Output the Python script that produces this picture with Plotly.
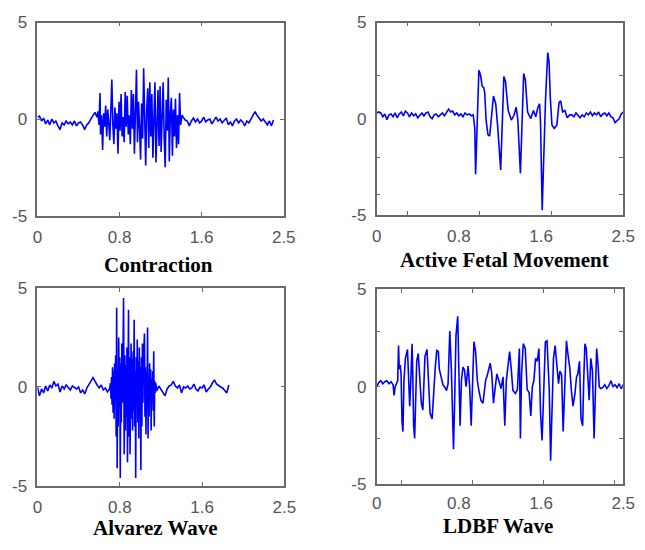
import plotly.graph_objects as go

# ---------------- data ----------------
TICK_POS = [0, 0.8, 1.6, 2.4]
TICK_TXT = ["0", "0.8", "1.6", "2.5"]
Y_TICKS = [5, 0, -5]
Y_TXT = ["5", "0", "-5"]
TITLES = ["Contraction", "Active Fetal Movement", "Alvarez Wave", "LDBF Wave"]

# Contraction
t1 = [0.00,0.02,0.04,0.06,0.08,0.10,0.12,0.14,0.16,0.18,
      0.20,0.22,0.24,0.26,0.28,0.30,0.32,0.34,0.36,0.38,
      0.40,0.42,0.44,0.46,0.48,0.50,0.52,0.54,0.56,
      0.58,0.59,0.60,0.61,0.615,0.625,0.635,0.645,0.655,0.665,
      0.675,0.685,0.695,0.705,0.715,0.725,0.735,0.745,0.755,0.765,
      0.775,0.785,0.795,0.805,0.815,0.825,0.835,0.845,0.855,0.865,
      0.875,0.885,0.895,0.905,0.915,0.925,0.935,0.945,0.955,0.965,
      0.975,0.985,0.995,1.005,1.015,1.025,1.035,1.045,1.055,1.065,
      1.075,1.085,1.095,1.105,1.115,1.125,1.135,1.145,1.155,1.165,
      1.175,1.185,1.195,1.205,1.215,1.225,1.235,1.245,1.255,1.265,
      1.275,1.285,1.295,1.305,1.315,1.325,1.335,1.345,1.355,1.365,
      1.375,1.385,1.395,1.41,
      1.42,1.44,1.46,1.48,1.50,1.52,1.54,1.56,1.58,1.60,
      1.62,1.64,1.66,1.68,1.70,1.72,1.74,1.76,1.78,1.80,
      1.82,1.84,1.86,1.88,1.90,1.92,1.94,1.96,1.98,2.00,
      2.02,2.04,2.06,2.08,2.10,2.12,2.14,2.16,2.18,2.20,
      2.22,2.24,2.26,2.28,2.30]
y1 = [0.1,0.15,-0.1,0.05,-0.25,-0.05,-0.3,0.0,-0.2,-0.1,
      -0.35,-0.55,-0.2,-0.3,-0.1,-0.25,-0.15,-0.3,-0.1,-0.35,
      -0.2,-0.15,-0.3,-0.55,-0.3,-0.2,0.0,0.2,0.35,
      0.1,0.4,-0.3,1.35,-0.8,0.2,-1.6,0.3,-0.4,0.7,
      -0.9,0.5,-0.2,-1.1,0.4,2.05,-0.3,-1.3,0.6,-0.5,
      0.3,-1.8,0.9,-0.6,1.3,-0.9,0.1,-1.2,1.4,-0.4,
      1.2,-0.8,0.2,-1.3,1.5,-0.5,1.3,-1.8,0.4,2.55,
      -1.2,0.9,-0.4,-2.1,0.8,-1.0,2.63,-0.8,-2.4,0.5,
      1.6,-1.5,1.9,-0.9,1.3,-2.0,0.6,1.9,-2.25,0.4,
      1.5,-1.4,1.7,-1.7,0.9,1.9,-1.0,-2.5,1.0,-0.6,
      2.15,-2.2,0.3,1.1,-1.9,0.5,-0.9,1.05,-1.5,0.2,
      -1.3,1.35,-0.3,0.2,
      0.1,-0.05,-0.1,-0.35,-0.1,0.05,-0.15,0.0,-0.2,-0.1,
      0.1,-0.15,-0.05,0.0,-0.25,-0.05,0.1,-0.1,0.0,-0.2,
      -0.1,0.05,-0.3,-0.15,-0.35,-0.1,0.0,-0.2,-0.05,-0.15,
      -0.35,-0.1,-0.2,0.0,0.25,0.38,0.2,0.05,-0.1,0.0,
      -0.15,-0.3,-0.1,-0.35,-0.05]

# Active Fetal Movement
t2 = [0.00,0.02,0.04,0.06,0.08,0.10,0.12,0.14,0.16,0.18,
      0.20,0.22,0.24,0.26,0.28,0.30,0.32,0.34,0.36,0.38,
      0.40,0.42,0.44,0.46,0.48,0.50,0.52,0.54,0.56,0.58,
      0.60,0.62,0.64,0.66,0.68,0.70,0.72,0.74,0.76,0.78,
      0.80,0.82,0.84,0.86,0.88,0.90,0.92,
      0.94,0.955,0.963,0.979,0.995,1.011,1.027,1.043,1.052,1.065,
      1.083,1.10,1.115,1.137,1.159,1.178,1.207,1.223,1.238,1.254,
      1.28,1.311,1.336,1.358,1.374,1.399,1.415,1.431,1.447,1.469,
      1.50,1.526,1.548,1.57,1.586,1.595,1.611,1.627,1.643,1.665,
      1.678,1.69,1.706,1.728,1.754,1.775,1.791,1.81,1.832,1.854,
      1.88,
      1.90,1.92,1.94,1.96,1.98,2.00,2.02,2.04,2.06,2.08,
      2.10,2.12,2.14,2.16,2.18,2.20,2.22,2.24,2.26,2.28,
      2.30,2.32,2.34,2.36,2.38,2.40]
y2 = [0.3,0.35,0.3,0.1,0.25,-0.05,0.2,0.25,0.1,0.3,
      0.05,0.25,0.35,0.15,0.4,0.3,0.1,0.3,0.15,0.25,
      0.05,0.2,0.3,0.15,0.3,0.35,0.1,0.0,0.2,0.25,
      0.1,0.2,0.3,0.15,0.3,0.5,0.35,0.4,0.2,0.3,
      0.15,0.25,0.1,0.3,0.2,0.25,0.15,
      0.2,-0.5,-2.88,-0.2,2.52,2.27,1.69,1.6,1.35,-0.07,
      -0.82,-0.9,-0.1,1.18,0.77,-0.4,-2.66,-0.22,2.19,1.94,
      0.43,-0.07,0.18,0.6,-0.07,-2.83,-0.2,2.35,2.02,0.35,
      0.01,0.43,0.1,0.6,0.77,-0.22,-4.75,-1.9,0.93,3.44,
      2.94,1.1,-0.32,-0.5,-0.32,0.85,0.93,0.35,0.43,0.05,
      0.2,
      0.2,0.1,0.3,0.15,0.05,0.2,0.1,0.3,0.2,0.35,
      0.15,0.3,0.2,0.35,0.1,0.25,0.3,0.15,0.3,0.1,
      0.05,-0.2,-0.1,0.0,0.25,0.35]

# Alvarez Wave
t3 = [0.00,0.02,0.04,0.06,0.08,0.10,0.12,0.14,0.16,0.18,
      0.20,0.22,0.24,0.26,0.28,0.30,0.32,0.34,0.36,0.38,
      0.40,0.42,0.44,0.46,0.48,0.50,0.52,0.54,0.56,0.58,
      0.60,0.62,0.64,0.66,0.68,0.70,
      0.71,0.715,0.72,0.725,0.73,0.735,0.74,0.745,0.75,0.755,
      0.76,0.765,0.77,0.775,0.78,0.785,0.79,0.795,0.80,0.805,
      0.81,0.815,0.82,0.825,0.83,0.837,0.843,0.85,0.855,0.86,
      0.865,0.87,0.875,0.88,0.885,0.89,0.895,0.90,0.905,0.91,
      0.915,0.92,0.925,0.93,0.935,0.94,0.945,0.95,0.955,0.96,
      0.965,0.97,0.975,0.98,0.985,0.99,0.995,1.00,1.005,1.01,
      1.015,1.02,1.025,1.03,1.04,1.045,1.05,1.055,1.06,1.065,
      1.07,1.075,1.08,1.085,1.09,1.095,1.10,1.105,1.11,1.115,
      1.12,1.125,1.13,1.135,1.14,1.145,1.15,
      1.16,1.18,1.20,1.22,1.24,1.26,1.28,1.30,1.32,1.34,
      1.36,1.38,1.40,1.42,1.44,1.46,1.48,1.50,1.52,1.54,
      1.56,1.58,1.60,1.62,1.64,1.66,1.68,1.70,1.72,1.74,
      1.76,1.78,1.80,1.82,1.84,1.86]
y3 = [0.0,-0.45,-0.1,-0.3,0.05,-0.2,0.1,-0.05,0.28,0.05,
      0.15,-0.25,0.05,-0.1,0.1,0.0,-0.15,0.05,-0.05,-0.1,
      0.0,-0.3,-0.15,-0.35,-0.05,0.1,0.3,0.47,0.25,0.1,
      -0.05,0.1,-0.15,-0.05,-0.25,-0.1,
      0.2,-0.6,0.5,-0.9,1.0,-1.3,0.8,-1.6,1.2,-0.5,
      1.6,-2.5,4.0,-4.1,1.0,-2.0,2.5,-1.0,1.5,-4.6,
      1.2,-1.8,2.2,-0.8,1.0,4.5,-3.4,1.6,-2.2,1.1,
      -1.5,2.0,-3.8,1.3,3.9,-2.5,1.5,-3.4,0.8,2.2,
      -1.6,1.4,-2.2,1.8,-1.2,3.4,-2.0,0.8,-4.6,1.5,
      -1.0,2.4,-1.8,1.3,-2.6,2.0,-1.2,1.0,-4.2,1.5,
      -2.0,2.2,-0.8,1.4,2.7,-1.5,1.0,-2.4,0.8,-1.0,
      3.0,-2.6,0.5,-1.5,1.2,-0.6,0.9,-2.2,0.4,-0.5,
      0.8,-1.2,1.8,-2.0,0.3,-0.3,0.2,
      -0.2,0.05,-0.1,-0.3,-0.45,-0.1,0.05,0.1,0.28,0.05,
      -0.05,0.1,-0.3,0.0,-0.05,0.05,-0.1,-0.05,0.15,-0.1,
      -0.2,0.0,-0.05,0.1,-0.25,-0.1,0.0,0.2,0.36,0.15,
      0.05,0.0,-0.05,-0.15,-0.3,0.1]

# LDBF Wave
t4 = [0.00,0.02,0.04,0.06,0.08,0.10,0.12,0.14,0.16,0.17,0.18,0.19,
      0.205,0.213,0.22,0.23,0.238,0.247,0.256,0.266,0.28,0.30,
      0.31,0.322,0.333,0.345,0.352,0.36,0.37,0.38,0.39,0.405,
      0.418,0.435,0.45,0.46,0.47,0.49,0.505,0.52,0.54,0.555,
      0.57,0.585,0.60,0.61,0.63,0.645,0.66,0.68,0.695,0.712,
      0.727,0.738,0.748,0.758,0.772,0.789,0.80,0.812,0.825,0.84,
      0.855,0.87,0.89,0.905,0.92,0.935,0.947,0.963,0.98,0.995,
      1.015,1.035,1.06,1.08,1.105,1.12,1.137,1.155,1.17,1.19,
      1.21,1.23,1.247,1.262,1.279,1.294,1.31,1.326,1.35,1.37,
      1.389,1.399,1.41,1.427,1.446,1.465,1.484,1.50,1.515,1.53,
      1.547,1.563,1.579,1.595,1.61,1.626,1.642,1.658,1.668,1.68,
      1.693,1.705,1.721,1.737,1.753,1.77,1.784,1.80,1.815,1.83,
      1.847,1.863,1.88,1.895,1.911,1.93,1.945,1.958,1.974,1.989,
      2.005,2.015,2.027,2.04,2.053,2.068,2.084,2.10,2.116,2.13,
      2.141,2.155,2.166,
      2.18,2.20,2.22,2.24,2.26,2.28,2.30,2.32,2.34,2.36,2.38,2.40]
y4 = [0.0,0.2,0.3,0.15,0.25,0.3,0.15,0.25,0.1,-0.45,0.0,0.1,
      0.3,2.1,0.9,1.1,0.6,-1.8,-2.3,0.3,1.45,1.9,
      0.3,-1.0,0.4,2.2,0.5,-2.0,-2.65,0.3,1.3,1.7,
      0.4,-0.85,-1.2,0.5,1.55,1.9,-0.2,-1.35,-1.65,-0.2,
      0.95,1.85,1.8,0.9,0.5,0.1,0.0,-0.2,0.15,2.85,
      0.9,-2.3,-3.2,-1.0,2.6,3.6,0.9,-2.0,0.3,1.0,
      0.85,0.0,1.05,0.0,-2.0,0.3,2.3,1.8,0.3,-0.2,
      -0.7,-0.85,0.3,0.65,1.2,0.7,-0.85,0.0,0.65,0.3,
      -0.1,0.5,-2.0,0.3,1.3,1.8,0.9,-0.2,-0.35,-0.15,
      1.95,-2.65,0.6,2.2,1.95,-0.15,-0.3,-1.5,0.0,0.3,
      1.45,1.3,1.95,-1.35,-2.75,0.3,2.3,2.35,1.45,-0.2,
      -3.8,-1.3,1.45,2.1,1.0,0.15,0.8,0.6,-2.3,-0.5,
      2.35,1.6,0.95,-0.2,-1.0,-0.35,0.5,0.65,1.3,-1.65,
      -2.0,0.3,2.2,1.95,0.3,-0.7,1.45,0.8,-2.65,-0.2,
      1.95,1.1,0.0,
      -0.1,-0.05,0.1,-0.1,0.05,0.3,0.0,0.1,-0.05,0.15,-0.1,0.1]

# tick-mark positions (small inward marks seen on each frame)
XMARKS = [[0.8, 1.6], [0.3, 1.0, 1.7], [0.8, 1.6], [0.24, 0.93, 1.62, 2.31]]
YMARKS = [[0], [2.27, -2.0, -3.92], [0], [2.8, 0, -2.63]]

SERIES = [(t1, y1), (t2, y2), (t3, y3), (t4, y4)]
for tt, yy in SERIES:
    assert len(tt) == len(yy), (len(tt), len(yy))

# ---------------- layout geometry ----------------
W, H = 645, 550
BOXES = [  # left, right, top, bottom in pixels
    (33.3, 286.3, 14, 214),
    (381.7, 635, 14, 213.3),
    (33.3, 287, 289, 494),
    (381.7, 635, 290, 492.3),
]
TITLE_POS = [(157.5, 265), (513.5, 260), (155, 538), (506.7, 536)]
X_STANDOFF = [5, 5, 5, 3]

FRAME = "#6a6a6a"
TICKFONT = dict(family="Liberation Sans, Arial, sans-serif", size=17, color="#555555")

fig = go.Figure()
layout = dict(width=W, height=H, margin=dict(l=0, r=0, t=0, b=0),
              paper_bgcolor="white", plot_bgcolor="white", showlegend=False,
              annotations=[])

for i, ((tt, yy), (l, r, tp, bt)) in enumerate(zip(SERIES, BOXES)):
    n = "" if i == 0 else str(i + 1)
    fig.add_trace(go.Scatter(x=tt, y=yy, mode="lines",
                             line=dict(color="#0000ff", width=1.6),
                             xaxis="x" + n, yaxis="y" + n, hoverinfo="skip"))
    common = dict(showline=True, mirror="ticks", linecolor=FRAME, linewidth=1.6,
                  showgrid=False, zeroline=False, tickfont=TICKFONT,
                  tickmode="array", ticks="inside", ticklen=0)
    layout["xaxis" + n] = dict(
        domain=[l / W, r / W], anchor="y" + n, range=[0, 2.4],
        tickvals=TICK_POS, ticktext=TICK_TXT, ticklabelstandoff=X_STANDOFF[i],
        minor=dict(tickmode="array", tickvals=XMARKS[i], ticks="inside",
                   ticklen=4, tickwidth=1.2, tickcolor=FRAME, showgrid=False),
        **common)
    layout["yaxis" + n] = dict(
        domain=[1 - bt / H, 1 - tp / H], anchor="x" + n, range=[-5, 5],
        tickvals=Y_TICKS, ticktext=Y_TXT, ticklabelstandoff=5,
        minor=dict(tickmode="array", tickvals=YMARKS[i], ticks="inside",
                   ticklen=4, tickwidth=1.2, tickcolor=FRAME, showgrid=False),
        **common)
    cx, cy = TITLE_POS[i]
    layout["annotations"].append(dict(
        text="<b>%s</b>" % TITLES[i], x=cx / W, y=1 - cy / H,
        xref="paper", yref="paper", xanchor="center", yanchor="middle",
        showarrow=False,
        font=dict(family="Liberation Serif, Times New Roman, serif", size=21, color="black")))

fig.update_layout(**layout)
fig.write_html("out.html",
               post_script="document.body.style.margin='0';document.body.style.overflow='hidden';")
